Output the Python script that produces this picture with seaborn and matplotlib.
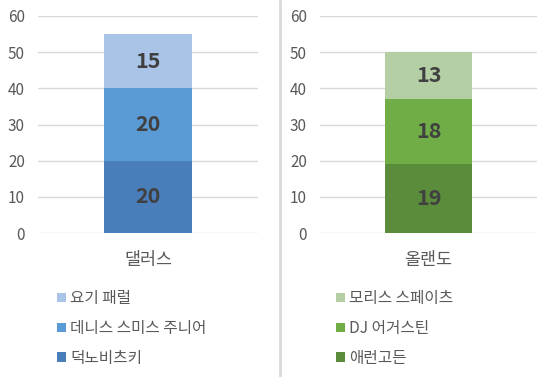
import matplotlib
matplotlib.use('Agg')
import matplotlib.pyplot as plt
from matplotlib.patches import Patch
from matplotlib.lines import Line2D
import pandas as pd
import numpy as np
import seaborn as sns

# data
dallas_city = ['댈러스']
dallas_players = ['덕노비츠키', '데니스 스미스 주니어', '요기 패럴']
dallas_values = [20, 20, 15]
dallas_colors = ['#4a7ebb', '#5b9bd5', '#a9c4e6']

orlando_city = ['올랜도']
orlando_players = ['애런고든', 'DJ 어거스틴', '모리스 스페이츠']
orlando_values = [19, 18, 13]
orlando_colors = ['#5a8c3b', '#70ad47', '#b5cfa5']

y_ticks = [0, 10, 20, 30, 40, 50, 60]

sns.set_style('white')
plt.rcParams['font.family'] = ['Noto Sans CJK KR', 'DejaVu Sans']

fig = plt.figure(figsize=(5.56, 3.77), dpi=100)
W, H = 556, 377


def draw_panel(rect, city, players, values, colors, legend_xy):
    ax = fig.add_axes(rect)
    df = pd.DataFrame({'city': city * len(values), 'player': players,
                       'value': values})
    df['top'] = df['value'].cumsum()
    df['bottom'] = df['top'] - df['value']
    # stacked bars: draw cumulative heights from the tallest down
    for i in reversed(range(len(df))):
        sns.barplot(x=[df['city'][i]], y=[df['top'][i]], color=colors[i],
                    saturation=1, width=0.4, ax=ax, linewidth=0)
    for i in range(len(df)):
        ax.text(0, (df['bottom'][i] + df['top'][i]) / 2, str(df['value'][i]),
                ha='center', va='center', fontsize=15.5, fontweight='bold',
                color='#404040')
    ax.set_ylim(0, 60)
    ax.set_xlim(-0.5, 0.5)
    ax.set_yticks(y_ticks)
    ax.yaxis.grid(True, color='#d9d9d9', linewidth=1)
    ax.set_axisbelow(True)
    for s in ax.spines.values():
        s.set_visible(False)
    ax.tick_params(axis='y', length=0, pad=9.4, labelsize=11, labelcolor='#595959')
    ax.tick_params(axis='x', length=0, pad=13, labelsize=12.5, labelcolor='#595959')
    ax.set_xlabel('')
    ax.set_ylabel('')
    handles = [Patch(facecolor=colors[i], edgecolor='none', label=players[i])
               for i in reversed(range(len(players)))]
    fig.legend(handles=handles, loc='upper left',
               bbox_to_anchor=(legend_xy[0] / W, 1 - legend_xy[1] / H),
               frameon=False, fontsize=11.3, handlelength=0.55, handleheight=0.55,
               handletextpad=0.3, labelspacing=0.82, borderpad=0, borderaxespad=0,
               labelcolor='#595959')
    return ax


draw_panel([38 / W, 1 - 233 / H, 220 / W, 217 / H], dallas_city, dallas_players,
           dallas_values, dallas_colors, (57, 290))
draw_panel([320 / W, 1 - 233 / H, 217 / W, 217 / H], orlando_city, orlando_players,
           orlando_values, orlando_colors, (336, 290))

fig.add_artist(Line2D([279.5 / W, 279.5 / W], [0, 1], color='#d9d9d9',
                      linewidth=2, transform=fig.transFigure))

fig.savefig('out.png', dpi=100)
